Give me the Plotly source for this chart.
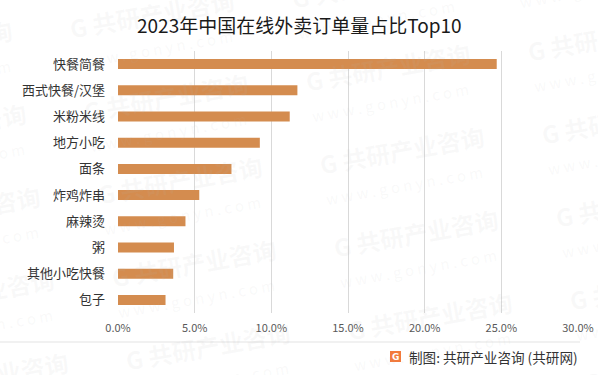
import plotly.graph_objects as go

categories = ["快餐简餐", "西式快餐/汉堡", "米粉米线", "地方小吃", "面条",
              "炸鸡炸串", "麻辣烫", "粥", "其他小吃快餐", "包子"]
shares = [0.247, 0.117, 0.112, 0.0925, 0.074, 0.053, 0.044, 0.0365, 0.036, 0.031]
x_ticks = [0, 0.05, 0.10, 0.15, 0.20, 0.25, 0.30]
x_tick_labels = ["0.0%", "5.0%", "10.0%", "15.0%", "20.0%", "25.0%", "30.0%"]
title_text = "2023年中国在线外卖订单量占比Top10"
source_text = "制图: 共研产业咨询 (共研网)"

W, H = 598, 375
L, R, T, B = 118, 20, 51, 62
PW, PH = W - L - R, H - T - B
FONT = "Noto Sans CJK SC, Noto Sans, sans-serif"


def px(x):
    return (x - L) / PW


def py(y):
    return (H - B - y) / PH


fig = go.Figure()
fig.add_trace(go.Bar(
    y=categories, x=shares, orientation="h",
    marker=dict(color="#D48C4F", line=dict(width=0)),
    hoverinfo="skip",
))

annotations = []
# faint watermarks tiled across the canvas
for c in range(0, 4):
    for r in range(-1, 6):
        cx = 404 + 222 * (c - 2) + 14 * (r - 2)
        cy = 163 - 30 * (c - 2) + 83 * (r - 2)
        if cx < -120 or cx > 720 or cy < -40 or cy > 420:
            continue
        annotations.append(dict(
            x=px(cx), y=py(cy), xref="paper", yref="paper",
            text="<b>G 共研产业咨询</b><br><span style='font-size:15px'>w w w . g o n y n . c o m</span>",
            showarrow=False, textangle=-10, align="left",
            font=dict(family=FONT, size=24, color="rgba(185,185,185,0.09)"),
            xanchor="center", yanchor="middle",
        ))

annotations.append(dict(
    x=px(299), y=py(25), xref="paper", yref="paper", text=title_text,
    showarrow=False, xanchor="center", yanchor="middle",
    font=dict(family=FONT, size=19, color="#1a1a1a"),
))
annotations.append(dict(
    x=px(580), y=py(357), xref="paper", yref="paper", text=source_text,
    showarrow=False, xanchor="right", yanchor="middle",
    font=dict(family=FONT, size=13.6, color="#333333"),
))
annotations.append(dict(
    x=px(395.5), y=py(356.5), xref="paper", yref="paper", text="<b>G</b>",
    showarrow=False, xanchor="center", yanchor="middle",
    font=dict(family="DejaVu Sans", size=9, color="white"),
))

shapes = [
    dict(type="line", xref="paper", yref="paper", x0=px(0), x1=px(580),
         y0=py(342), y1=py(342), line=dict(color="#e3e3e3", width=1)),
    dict(type="rect", xref="paper", yref="paper", x0=px(390), x1=px(401),
         y0=py(362), y1=py(351), fillcolor="#F27A3C", line=dict(width=0)),
]

fig.update_layout(
    width=W, height=H, autosize=False,
    margin=dict(l=L, r=R, t=T, b=B, pad=0, autoexpand=False),
    paper_bgcolor="white", plot_bgcolor="white",
    showlegend=False, bargap=0.62,
    font=dict(family=FONT, color="#333333"),
    xaxis=dict(
        range=[0, 0.3], tickvals=x_ticks, ticktext=x_tick_labels,
        showgrid=True, gridcolor="#d9d9d9", gridwidth=1,
        zeroline=False, showline=False, ticks="", automargin=False,
        tickfont=dict(family=FONT, size=11, color="#595959"),
        ticklabelstandoff=7, fixedrange=True,
    ),
    yaxis=dict(
        autorange="reversed", showgrid=False, zeroline=False, showline=False,
        ticks="", ticklabelstandoff=12, automargin=False, fixedrange=True,
        tickfont=dict(family=FONT, size=13, color="#333333"),
    ),
    annotations=annotations, shapes=shapes,
)

fig.write_html("out.html", config={"displayModeBar": False},
               post_script="document.body.style.margin='0px';document.body.style.overflow='hidden';")
